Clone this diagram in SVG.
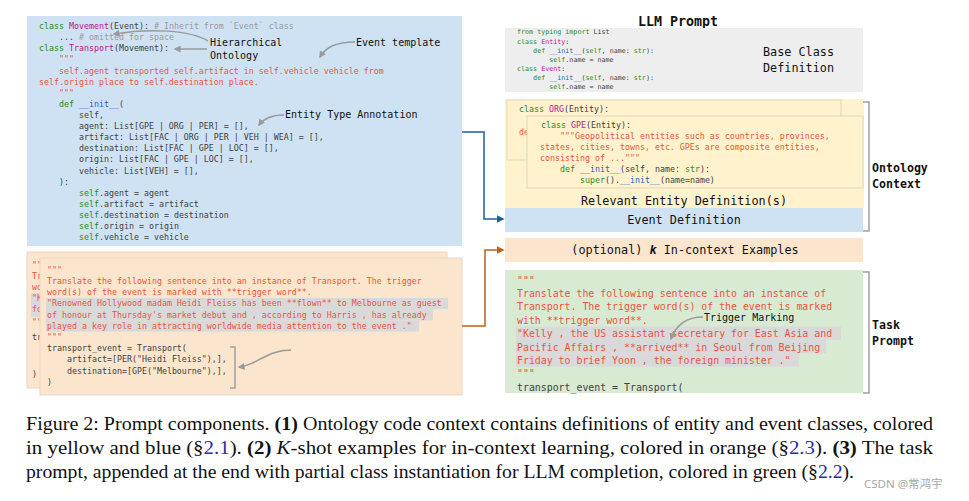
<svg xmlns="http://www.w3.org/2000/svg" width="969" height="501" viewBox="0 0 969 501">
<style>
.code{font-family:"DejaVu Sans Mono","Liberation Mono",monospace;font-size:8.3px;fill:#404040;white-space:pre}
.sm{font-size:6.7px}
.md{font-size:9.9px}
.k{fill:#1e8c1e}
.cn{fill:#b5178c}
.fn{fill:#1f5fbf}
.cm{fill:#9a9a9a}
.s{fill:#e8553e}
.ann{font-family:"DejaVu Sans Mono","Liberation Mono",monospace;font-size:10px;fill:#111}
.lbl{font-family:"DejaVu Sans Mono","Liberation Mono",monospace;font-size:11.8px;fill:#111}
.bl{font-family:"DejaVu Sans Mono","Liberation Mono",monospace;font-weight:bold;fill:#111}
.hl{fill:#d9d9d9}
.garrow{fill:none;stroke:#9a9a9a;stroke-width:1.5}
.brk{fill:none;stroke:#a0a0a0;stroke-width:1.5}
.cap{font-family:"Liberation Serif","Times New Roman",serif;font-size:19.2px;fill:#111}
.ref{fill:#2a2ab0}
</style>
<defs>
<marker id="ga" viewBox="0 0 10 10" refX="8" refY="5" markerWidth="7" markerHeight="7" markerUnits="userSpaceOnUse" orient="auto"><path d="M0,0 L10,5 L0,10 z" fill="#9a9a9a"/></marker>
<marker id="ba" viewBox="0 0 10 10" refX="8" refY="5" markerWidth="8" markerHeight="8" markerUnits="userSpaceOnUse" orient="auto"><path d="M0,0 L10,5 L0,10 z" fill="#1f5f9f"/></marker>
<marker id="oa" viewBox="0 0 10 10" refX="8" refY="5" markerWidth="8" markerHeight="8" markerUnits="userSpaceOnUse" orient="auto"><path d="M0,0 L10,5 L0,10 z" fill="#c0601a"/></marker>
</defs>
<rect width="969" height="501" fill="#ffffff"/>

<!-- Ontology code (blue) -->
<g id="ontology-code" xml:space="preserve">
<rect x="27" y="16" width="435" height="230" fill="#cfe2f3"/>
<text class="code" x="39" y="29"><tspan class="k">class</tspan> <tspan class="cn">Movement</tspan>(Event): <tspan class="cm"># Inherit from `Event` class</tspan></text>
<text class="code" x="39" y="40.1">    ... <tspan class="cm"># omitted for space</tspan></text>
<text class="code" x="39" y="51.2"><tspan class="k">class</tspan> <tspan class="cn">Transport</tspan>(Movement):</text>
<text class="code s" x="39" y="62.4">    """</text>
<text class="code s" x="39" y="73.5">    self.agent transported self.artifact in self.vehicle vehicle from</text>
<text class="code s" x="39" y="84.6">self.origin place to self.destination place.</text>
<text class="code s" x="39" y="95.7">    """</text>
<text class="code" x="39" y="106.8">    <tspan class="k">def</tspan> <tspan class="fn">__init__</tspan>(</text>
<text class="code" x="39" y="118">        self,</text>
<text class="code" x="39" y="129.1">        agent: List[GPE | ORG | PER] = [],</text>
<text class="code" x="39" y="140.2">        artifact: List[FAC | ORG | PER | VEH | WEA] = [],</text>
<text class="code" x="39" y="151.3">        destination: List[FAC | GPE | LOC] = [],</text>
<text class="code" x="39" y="162.4">        origin: List[FAC | GPE | LOC] = [],</text>
<text class="code" x="39" y="173.6">        vehicle: List[VEH] = [],</text>
<text class="code" x="39" y="184.7">    ):</text>
<text class="code" x="39" y="195.8">        <tspan class="k">self</tspan>.agent = agent</text>
<text class="code" x="39" y="206.9">        <tspan class="k">self</tspan>.artifact = artifact</text>
<text class="code" x="39" y="218">        <tspan class="k">self</tspan>.destination = destination</text>
<text class="code" x="39" y="229.2">        <tspan class="k">self</tspan>.origin = origin</text>
<text class="code" x="39" y="240.3">        <tspan class="k">self</tspan>.vehicle = vehicle</text>
</g>

<g id="annotations-left">
<text class="ann" x="210" y="45.5">Hierarchical</text>
<text class="ann" x="210" y="58.5">Ontology</text>
<text class="ann" x="356" y="45.5">Event template</text>
<text class="ann" x="285" y="117.5">Entity Type Annotation</text>
<text class="ann" x="292" y="352.5">Groundtruth Code</text>
</g>

<!-- In-context examples (orange, stacked) -->
<g id="examples-back">
<rect x="27" y="252" width="420" height="136" fill="#fce5cd" stroke="#e8d8c6" stroke-width="1"/>
<rect x="31" y="293" width="10" height="24" class="hl"/>
<text class="code s" x="32" y="268">""</text>
<text class="code s" x="32" y="279">Tr</text>
<text class="code s" x="32" y="290">wo</text>
<text class="code s" x="32" y="301">"K</text>
<text class="code s" x="32" y="312">fo</text>
<text class="code s" x="32" y="325">""</text>
<text class="code" x="32" y="340">tr</text>
<text class="code" x="32" y="377">)</text>
</g>
<g id="examples-front" xml:space="preserve">
<rect x="40" y="258" width="422" height="137" fill="#fce5cd" stroke="#e8d8c6" stroke-width="1"/>
<rect x="46" y="298" width="402" height="11.2" class="hl"/>
<rect x="46" y="309.2" width="387" height="11.2" class="hl"/>
<rect x="46" y="320.4" width="373" height="11.2" class="hl"/>
<text class="code s" x="47" y="272.8">"""</text>
<text class="code s" x="47" y="284">Translate the following sentence into an instance of Transport. The trigger</text>
<text class="code s" x="47" y="295.2">word(s) of the event is marked with **trigger word**.</text>
<text class="code s" x="47" y="306.4">"Renowned Hollywood madam Heidi Fleiss has been **flown** to Melbourne as guest</text>
<text class="code s" x="47" y="317.6">of honour at Thursday's market debut and , according to Harris , has already</text>
<text class="code s" x="47" y="328.8">played a key role in attracting worldwide media attention to the event ."</text>
<text class="code s" x="47" y="340">"""</text>
<text class="code" x="47" y="351.2">transport_event = Transport(</text>
<text class="code" x="47" y="362.4">    artifact=[PER("Heidi Fleiss"),],</text>
<text class="code" x="47" y="373.6">    destination=[GPE("Melbourne"),],</text>
<text class="code" x="47" y="384.8">)</text>
<path class="brk" d="M230,347 H235 V388 H230"/>
</g>

<!-- Right: LLM Prompt -->
<g id="llm-title">
<text class="bl" x="678" y="26" font-size="13.3" text-anchor="middle">LLM Prompt</text>
</g>

<g id="base-class" xml:space="preserve">
<rect x="505" y="28" width="358" height="64" fill="#eeeeee"/>
<text class="code sm" x="517" y="34.4"><tspan class="k">from typing import</tspan> List</text>
<text class="code sm" x="517" y="43.5"><tspan class="k">class</tspan> <tspan class="cn">Entity</tspan>:</text>
<text class="code sm" x="517" y="52.7">    <tspan class="k">def</tspan> <tspan class="fn">__init__</tspan>(<tspan class="k">self</tspan>, name: <tspan class="k">str</tspan>):</text>
<text class="code sm" x="517" y="61.9">        <tspan class="k">self</tspan>.name = name</text>
<text class="code sm" x="517" y="71"><tspan class="k">class</tspan> <tspan class="cn">Event</tspan>:</text>
<text class="code sm" x="517" y="80.2">    <tspan class="k">def</tspan> <tspan class="fn">__init__</tspan>(<tspan class="k">self</tspan>, name: <tspan class="k">str</tspan>):</text>
<text class="code sm" x="517" y="89.3">        <tspan class="k">self</tspan>.name = name</text>
<text class="lbl" x="763" y="56">Base Class</text>
<text class="lbl" x="763" y="72">Definition</text>
</g>

<g id="entity-defs" xml:space="preserve">
<rect x="505" y="99" width="359" height="109" fill="#fff2cc"/>
<rect x="507" y="100" width="334" height="60" fill="#fff2cc" stroke="#ddd5bf" stroke-width="1"/>
<text class="code" x="519" y="112"><tspan class="k">class</tspan> <tspan class="cn">ORG</tspan>(Entity):</text>
<text class="code s" x="519" y="134.5">de</text>
<rect x="527" y="116" width="336" height="72" fill="#fff2cc" stroke="#ddd5bf" stroke-width="1"/>
<text class="code" x="541" y="128"><tspan class="k">class</tspan> <tspan class="cn">GPE</tspan>(Entity):</text>
<text class="code s" x="540" y="139">    """Geopolitical entities such as countries, provinces,</text>
<text class="code s" x="540" y="150">states, cities, towns, etc. GPEs are composite entities,</text>
<text class="code s" x="540" y="161">consisting of ..."""</text>
<text class="code" x="540" y="172">    <tspan class="k">def</tspan> <tspan class="fn">__init__</tspan>(self, name: <tspan class="k">str</tspan>):</text>
<text class="code" x="540" y="183">        <tspan class="k">super</tspan>().<tspan class="fn">__init__</tspan>(name=name)</text>
<text class="lbl" x="684" y="205" text-anchor="middle">Relevant Entity Definition(s)</text>
</g>

<g id="event-def">
<rect x="505" y="208" width="358" height="24" fill="#cfe2f3"/>
<text class="lbl" x="684" y="224" text-anchor="middle">Event Definition</text>
</g>

<g id="icl-examples">
<rect x="505" y="238" width="358" height="24" fill="#fce5cd"/>
<text class="lbl" x="685" y="254" text-anchor="middle">(optional) <tspan font-style="italic" font-weight="bold">k</tspan> In-context Examples</text>
</g>

<g id="task-prompt" xml:space="preserve">
<rect x="505" y="270" width="358" height="123" fill="#d9ead3"/>
<rect x="516" y="326.5" width="325" height="13.4" class="hl"/>
<rect x="516" y="339.9" width="310" height="13.4" class="hl"/>
<rect x="516" y="353.3" width="283" height="13.4" class="hl"/>
<text class="code md s" x="517" y="283.5">"""</text>
<text class="code md s" x="517" y="297">Translate the following sentence into an instance of</text>
<text class="code md s" x="517" y="310.4">Transport. The trigger word(s) of the event is marked</text>
<text class="code md s" x="517" y="323.8">with **trigger word**.</text>
<text class="code md s" x="517" y="337.2">"Kelly , the US assistant secretary for East Asia and</text>
<text class="code md s" x="517" y="350.6">Pacific Affairs , **arrived** in Seoul from Beijing</text>
<text class="code md s" x="517" y="364">Friday to brief Yoon , the foreign minister ."</text>
<text class="code md s" x="517" y="377.4">"""</text>
<text class="code md" x="517" y="390.8">transport_event = Transport(</text>
<text class="ann" x="704" y="320.5">Trigger Marking</text>
</g>

<g id="right-labels">
<path class="brk" d="M863,102 H869 V231 H863"/>
<text class="bl" x="872" y="172" font-size="11.6">Ontology</text>
<text class="bl" x="872" y="188" font-size="11.6">Context</text>
<path class="brk" d="M863,272 H869 V393 H863"/>
<text class="bl" x="872" y="329" font-size="11.6">Task</text>
<text class="bl" x="872" y="345" font-size="11.6">Prompt</text>
</g>

<g id="connectors">
<path class="garrow" d="M208,41 C190,30 150,28 114,34" marker-end="url(#ga)"/>
<path class="garrow" d="M207,49 L175,49" marker-end="url(#ga)"/>
<path class="garrow" d="M355,42 C336,42 326,47 320,57" marker-end="url(#ga)"/>
<path class="garrow" d="M284,115 C272,115 264,118 259,125" marker-end="url(#ga)"/>
<path class="garrow" d="M291,350 C266,350 258,365 239,367" marker-end="url(#ga)"/>
<path class="garrow" d="M703,317 C686,317 676,325 671,339" marker-end="url(#ga)"/>
<path d="M462,132 H484 V219 H503" fill="none" stroke="#1f5f9f" stroke-width="1.5" marker-end="url(#ba)"/>
<path d="M462,326 H485 V250 H503" fill="none" stroke="#c0601a" stroke-width="1.5" marker-end="url(#oa)"/>
</g>

<g id="caption">
<text class="cap" x="26" y="430" textLength="907" lengthAdjust="spacingAndGlyphs">Figure 2: Prompt components. <tspan font-weight="bold">(1)</tspan> Ontology code context contains definitions of entity and event classes, colored</text>
<text class="cap" x="26" y="453.5" textLength="907" lengthAdjust="spacingAndGlyphs">in yellow and blue (§<tspan class="ref">2.1</tspan>).  <tspan font-weight="bold">(2)</tspan> <tspan font-style="italic">K</tspan>-shot examples for in-context learning, colored in orange (§<tspan class="ref">2.3</tspan>).  <tspan font-weight="bold">(3)</tspan> The task</text>
<text class="cap" x="26" y="477.5" textLength="828" lengthAdjust="spacingAndGlyphs">prompt, appended at the end with partial class instantiation for LLM completion, colored in green (§<tspan class="ref">2.2</tspan>).</text>
<text x="864" y="488" font-family="'Noto Sans','Noto Sans CJK SC',sans-serif" font-size="11.5" fill="#a8a8a8">CSDN @常鸿宇</text>
</g>
</svg>
